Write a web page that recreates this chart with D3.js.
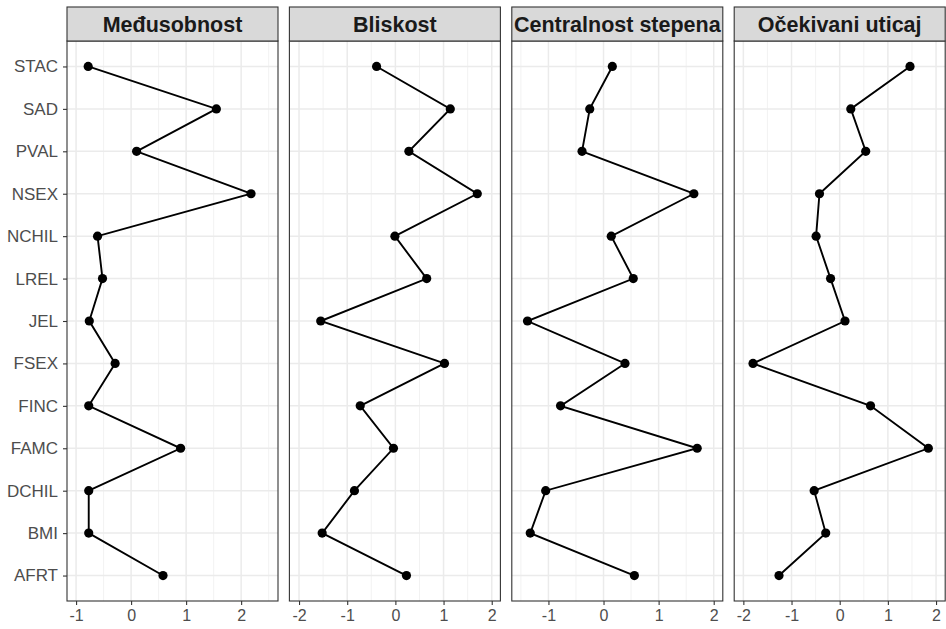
<!DOCTYPE html>
<html>
<head>
<meta charset="utf-8">
<script src="https://cdn.jsdelivr.net/npm/d3@7"></script>
<style>
  body { margin: 0; background: #fff; }
  svg text { font-family: "Liberation Sans", Arial, sans-serif; }
</style>
</head>
<body>
<div id="chart"></div>
<script>
// categories, top to bottom
var categories = ["STAC", "SAD", "PVAL", "NSEX", "NCHIL", "LREL", "JEL", "FSEX", "FINC", "FAMC", "DCHIL", "BMI", "AFRT"];
var panelTitles = ["Međusobnost", "Bliskost", "Centralnost stepena", "Očekivani uticaj"];

// values per panel (same order as categories)
var medjusobnost = [-0.78, 1.55, 0.10, 2.18, -0.61, -0.52, -0.76, -0.29, -0.77, 0.90, -0.77, -0.77, 0.58];
var bliskost = [-0.39, 1.14, 0.28, 1.70, -0.01, 0.65, -1.55, 1.02, -0.73, -0.04, -0.85, -1.52, 0.23];
var centralnost = [0.16, -0.25, -0.39, 1.64, 0.14, 0.54, -1.38, 0.39, -0.78, 1.70, -1.05, -1.33, 0.56];
var uticaj = [1.46, 0.23, 0.54, -0.42, -0.49, -0.19, 0.11, -1.80, 0.64, 1.84, -0.53, -0.29, -1.26];
var panelValues = [medjusobnost, bliskost, centralnost, uticaj];

// x axis per panel (free scales)
var xDomains = [[-1.165, 2.67], [-2.2, 2.18], [-1.665, 2.165], [-2.19, 2.19]];
var xTicks = [[-1, 0, 1, 2], [-2, -1, 0, 1, 2], [-1, 0, 1, 2], [-2, -1, 0, 1, 2]];

var width = 946, height = 629;
var panelW = 211, panelGap = 11.4;
var left0 = 67, stripTop = 7, stripH = 34, panelTop = 41, panelBottom = 601;

var svg = d3.select("#chart").append("svg")
    .attr("width", width)
    .attr("height", height);

var y = d3.scalePoint()
    .domain(categories)
    .range([panelTop, panelBottom])
    .padding(0.6);

panelTitles.forEach(function(title, p){
    var x0 = left0 + p * (panelW + panelGap);
    var x = d3.scaleLinear().domain(xDomains[p]).range([x0, x0 + panelW]);
    var g = svg.append("g");

    // minor grid
    var minor = d3.range(Math.ceil(xDomains[p][0] * 2) / 2, xDomains[p][1], 0.5).filter(function(v){ return v % 1 != 0; });
    g.selectAll(".minor").data(minor).enter().append("line")
        .attr("x1", d => x(d)).attr("x2", d => x(d))
        .attr("y1", panelTop).attr("y2", panelBottom)
        .attr("stroke", "#f0f0f0").attr("stroke-width", 0.9);
    // major grid
    g.selectAll(".majx").data(xTicks[p]).enter().append("line")
        .attr("x1", d => x(d)).attr("x2", d => x(d))
        .attr("y1", panelTop).attr("y2", panelBottom)
        .attr("stroke", "#ebebeb").attr("stroke-width", 1.5);
    g.selectAll(".majy").data(categories).enter().append("line")
        .attr("x1", x0).attr("x2", x0 + panelW)
        .attr("y1", d => y(d)).attr("y2", d => y(d))
        .attr("stroke", "#ebebeb").attr("stroke-width", 1.5);

    // data line + points
    var data = categories.map(function(c, i){ return {cat: c, v: panelValues[p][i]}; });
    g.append("path")
        .datum(data)
        .attr("fill", "none")
        .attr("stroke", "#000")
        .attr("stroke-width", 1.9)
        .attr("d", d3.line().x(d => x(d.v)).y(d => y(d.cat)));
    g.selectAll(".pt").data(data).enter().append("circle")
        .attr("cx", d => x(d.v))
        .attr("cy", d => y(d.cat))
        .attr("r", 4.6)
        .attr("fill", "#000");

    // panel border
    g.append("rect")
        .attr("x", x0).attr("y", panelTop)
        .attr("width", panelW).attr("height", panelBottom - panelTop)
        .attr("fill", "none").attr("stroke", "#333").attr("stroke-width", 1.1);

    // strip
    g.append("rect")
        .attr("x", x0).attr("y", stripTop)
        .attr("width", panelW).attr("height", stripH)
        .attr("fill", "#d9d9d9").attr("stroke", "#333").attr("stroke-width", 1.1);
    g.append("text")
        .attr("x", x0 + panelW / 2).attr("y", stripTop + stripH / 2 + 7.5)
        .attr("text-anchor", "middle")
        .attr("font-size", "21.5px").attr("font-weight", "bold")
        .attr("fill", "#1a1a1a")
        .text(title);

    // x axis
    var ax = g.append("g")
        .attr("transform", "translate(0," + panelBottom + ")")
        .call(d3.axisBottom(x).tickValues(xTicks[p]).tickFormat(d3.format("d")).tickSize(4).tickPadding(5));
    ax.select(".domain").remove();
    ax.selectAll(".tick line").attr("stroke", "#333").attr("stroke-width", 1.1);
    ax.selectAll(".tick text").attr("font-size", "16px").attr("fill", "#4d4d4d")
        .text(d => d < 0 ? "-" + Math.abs(d) : d);

    if (p == 0){
        var ay = g.append("g")
            .attr("transform", "translate(" + x0 + ",0)")
            .call(d3.axisLeft(y).tickSize(4).tickPadding(5));
        ay.select(".domain").remove();
        ay.selectAll(".tick line").attr("stroke", "#333").attr("stroke-width", 1.1);
        ay.selectAll(".tick text").attr("font-size", "17px").attr("fill", "#4d4d4d");
    }
});
</script>
</body>
</html>
